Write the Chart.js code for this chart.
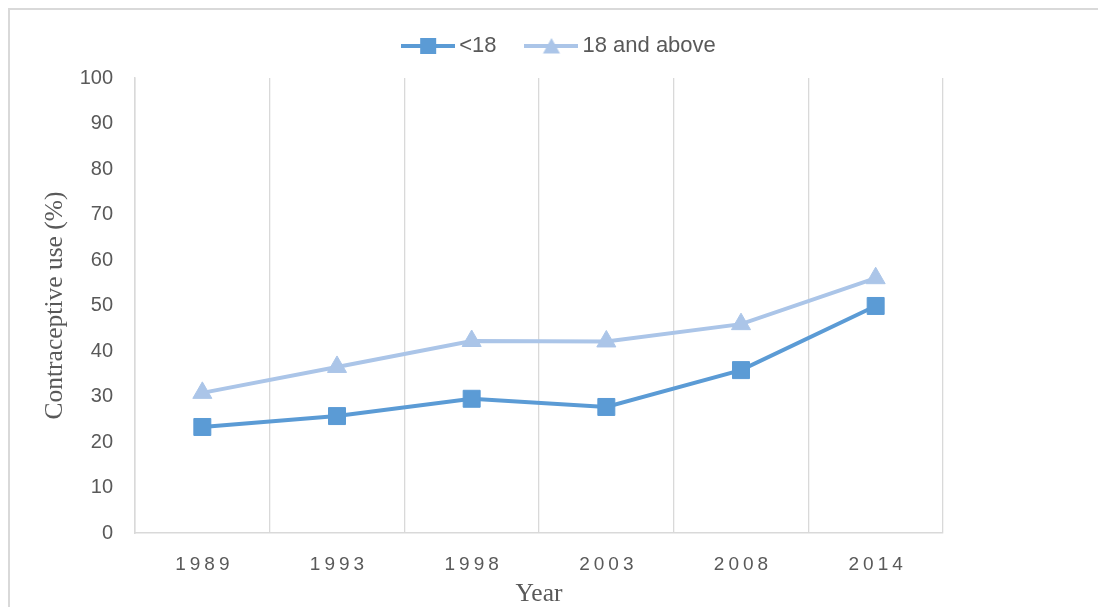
<!DOCTYPE html>
<html>
<head>
<meta charset="utf-8">
<script src="https://cdn.jsdelivr.net/npm/chart.js@4"></script>
<style>
  html, body { margin: 0; padding: 0; overflow: hidden; background: #fff; }
  #wrap { position: relative; width: 1098px; height: 607px; }
  #frame { position: absolute; left: 8px; top: 8px; width: 1300px; height: 800px; border: 2px solid #d9d9d9; box-sizing: border-box; }
  canvas { position: absolute; left: 0; top: 0; }
</style>
</head>
<body>
<div id="wrap">
  <div id="frame"></div>
  <canvas id="chart" width="1098" height="607"></canvas>
</div>
<script>
const years = ["1989", "1993", "1998", "2003", "2008", "2014"];
const under18 = [23.3, 25.7, 29.5, 27.7, 35.8, 49.9];
const above18 = [30.8, 36.5, 42.2, 42.1, 45.9, 56.0];

const blue = "#5b9bd5";
const lightBlue = "#abc5e8";
const gridColor = "#d9d9d9";
const textColor = "#595959";
const sans = "'Liberation Sans', Arial, sans-serif";
const serif = "'Liberation Serif', 'Times New Roman', serif";

// legend sample: line with the marker on it
function legendIcon(color, style) {
  const c = document.createElement("canvas");
  c.width = 54;
  c.height = 22;
  const g = c.getContext("2d");
  g.strokeStyle = color;
  g.lineWidth = 4;
  g.beginPath();
  g.moveTo(0, 11);
  g.lineTo(54, 11);
  g.stroke();
  g.fillStyle = color;
  if (style === "rect") {
    g.fillRect(19, 3, 16, 16);
  } else {
    g.beginPath();
    g.moveTo(27, 3);
    g.lineTo(35.5, 18.5);
    g.lineTo(18.5, 18.5);
    g.closePath();
    g.fill();
  }
  return c;
}
const icons = [legendIcon(blue, "rect"), legendIcon(lightBlue, "triangle")];

// spaced-out year labels, and a fixed legend height so the plot starts lower
const tweaks = {
  id: "tweaks",
  beforeUpdate(chart) {
    const lg = chart.legend;
    if (lg && !lg._patched) {
      const fit = lg.fit;
      lg.fit = function() {
        fit.call(this);
        this.height = 78;
      };
      lg._patched = true;
    }
  },
  beforeDraw(chart) {
    const x = chart.scales.x;
    if (x._spaced) return;
    const orig = x.drawLabels;
    x.drawLabels = function(area) {
      const ctx = this.ctx;
      ctx.save();
      ctx.letterSpacing = "4px";
      ctx.translate(2, 0);
      orig.call(this, area);
      ctx.restore();
    };
    x._spaced = true;
  }
};

new Chart(document.getElementById("chart"), {
  type: "line",
  data: {
    labels: years,
    datasets: [
      {
        label: "<18",
        data: under18,
        borderColor: blue,
        backgroundColor: blue,
        borderWidth: 4,
        pointStyle: "rect",
        pointRadius: 12,
        pointBorderWidth: 1,
        tension: 0
      },
      {
        label: "18 and above",
        data: above18,
        borderColor: lightBlue,
        backgroundColor: lightBlue,
        borderWidth: 4,
        pointStyle: "triangle",
        pointRadius: 11,
        pointBorderWidth: 1,
        tension: 0
      }
    ]
  },
  options: {
    responsive: false,
    animation: false,
    devicePixelRatio: 1,
    layout: { padding: { top: 0, left: 27, right: 1, bottom: 0 } },
    plugins: {
      tooltip: { enabled: false },
      legend: {
        position: "top",
        labels: {
          usePointStyle: true,
          pointStyleWidth: 40,
          padding: 35,
          color: textColor,
          font: { family: sans, size: 22 },
          generateLabels(chart) {
            const items = Chart.defaults.plugins.legend.labels.generateLabels(chart);
            items.forEach((it, i) => { it.pointStyle = icons[i]; });
            return items;
          }
        }
      }
    },
    scales: {
      x: {
        offset: true,
        grid: { display: true, offset: true, color: gridColor, lineWidth: 1.3, drawTicks: false },
        border: { display: true, color: gridColor, width: 1.5 },
        ticks: {
          padding: 22,
          color: textColor,
          font: { family: sans, size: 19, lineHeight: 1 }
        },
        title: {
          display: true,
          text: "Year",
          color: textColor,
          padding: { top: 0, bottom: 0 },
          font: { family: serif, size: 25.5, lineHeight: 1 }
        },
        afterFit(s) { s.height = 74; }
      },
      y: {
        min: 0,
        max: 100,
        ticks: {
          stepSize: 10,
          padding: 22,
          color: textColor,
          font: { family: sans, size: 20 }
        },
        grid: { display: false, drawTicks: false },
        border: { display: true, color: gridColor, width: 1.5 },
        title: {
          display: true,
          text: "Contraceptive use (%)",
          color: textColor,
          padding: { top: 13, bottom: 0 },
          font: { family: serif, size: 25.5 }
        },
        afterFit(s) { s.width = 108; }
      },
      y2: {
        position: "right",
        min: 0,
        max: 100,
        grid: { display: false, drawTicks: false },
        border: { display: false },
        ticks: { display: false },
        afterFit(s) { s.width = 154; }
      }
    }
  },
  plugins: [tweaks]
});
</script>
</body>
</html>
